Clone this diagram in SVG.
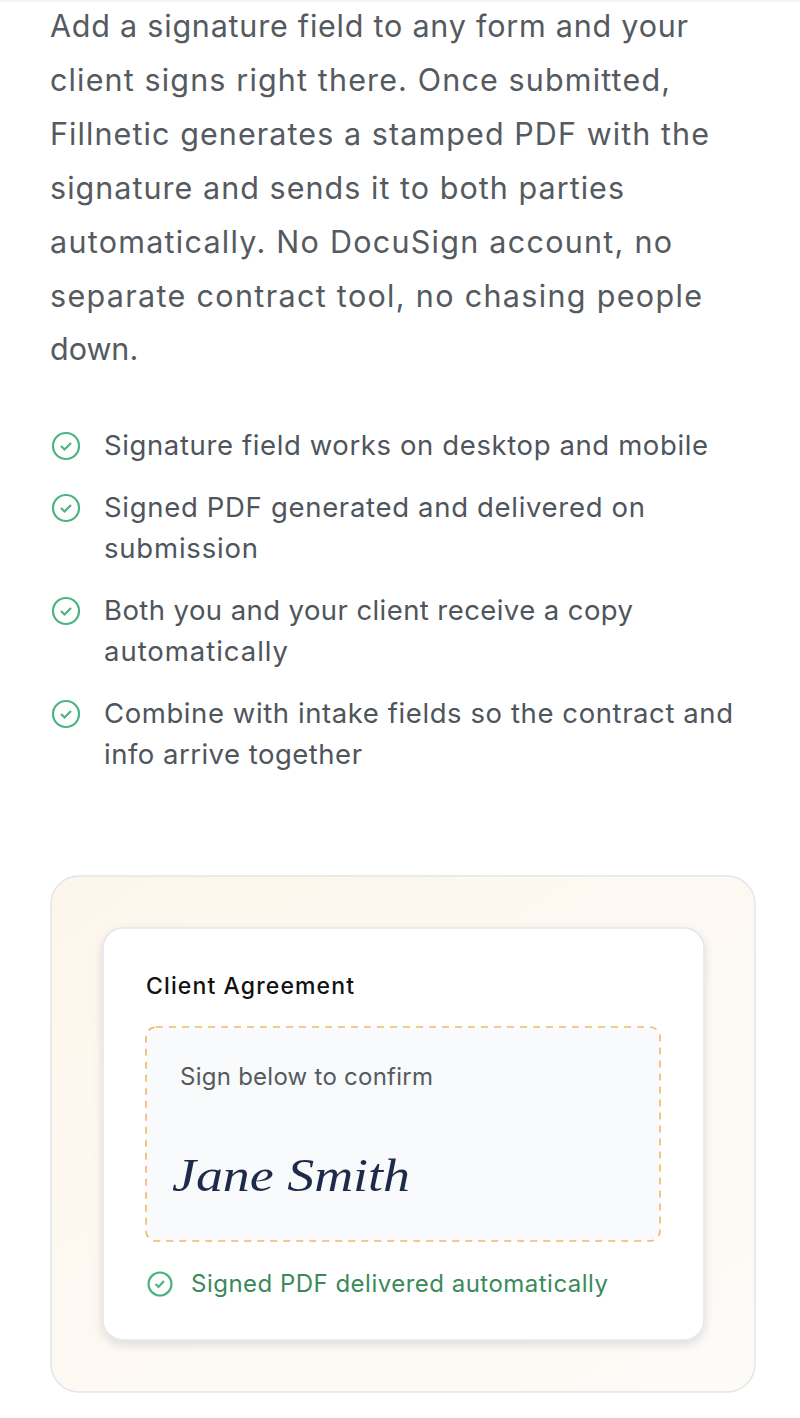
<svg xmlns="http://www.w3.org/2000/svg" width="800" height="1418" viewBox="0 0 800 1418">
<defs>
<style>
.p{font-family:Inter,"Noto Sans",sans-serif;font-size:30.5px;fill:#555a60}
.l{font-family:Inter,"Noto Sans",sans-serif;font-size:27.5px;fill:#4f555c}
.ic{fill:none;stroke:#4db380;stroke-width:2.2}
</style>
<linearGradient id="bg" x1="0" y1="0" x2="1" y2="1"><stop offset="0" stop-color="#fdf6ec"/><stop offset="1" stop-color="#fdfbf8"/></linearGradient>
<filter id="sh" x="-10%" y="-10%" width="120%" height="125%"><feDropShadow dx="0" dy="4" stdDeviation="5" flood-color="#000" flood-opacity="0.12"/></filter>
<g id="chk"><circle r="13" class="ic"/><path d="M-5,0 L-1.5,3.5 L5,-3" class="ic"/></g>
</defs>
<rect width="800" height="1418" fill="#fff"/>
<line x1="0" y1="1" x2="800" y2="1" stroke="#e5e7eb"/>
<g id="intro">
<text class="p" x="50" y="37" textLength="638" lengthAdjust="spacing">Add a signature field to any form and your</text>
<text class="p" x="50" y="91" textLength="620" lengthAdjust="spacing">client signs right there. Once submitted,</text>
<text class="p" x="50" y="145" textLength="659" lengthAdjust="spacing">Fillnetic generates a stamped PDF with the</text>
<text class="p" x="50" y="199" textLength="574" lengthAdjust="spacing">signature and sends it to both parties</text>
<text class="p" x="50" y="253" textLength="622" lengthAdjust="spacing">automatically. No DocuSign account, no</text>
<text class="p" x="50" y="307" textLength="652" lengthAdjust="spacing">separate contract tool, no chasing people</text>
<text class="p" x="50" y="360">down.</text>
</g>
<g id="list">
<use href="#chk" x="66" y="446"/>
<text class="l" x="104" y="455" textLength="604" lengthAdjust="spacing">Signature field works on desktop and mobile</text>
<use href="#chk" x="66" y="508"/>
<text class="l" x="104" y="517" textLength="541" lengthAdjust="spacing">Signed PDF generated and delivered on</text>
<text class="l" x="104" y="558" textLength="154" lengthAdjust="spacing">submission</text>
<use href="#chk" x="66" y="611"/>
<text class="l" x="104" y="620" textLength="529" lengthAdjust="spacing">Both you and your client receive a copy</text>
<text class="l" x="104" y="661" textLength="184" lengthAdjust="spacing">automatically</text>
<use href="#chk" x="66" y="714"/>
<text class="l" x="104" y="723" textLength="629" lengthAdjust="spacing">Combine with intake fields so the contract and</text>
<text class="l" x="104" y="764" textLength="258" lengthAdjust="spacing">info arrive together</text>
</g>
<g id="outer-card"><rect x="51" y="876" width="704" height="516" rx="28" fill="url(#bg)" stroke="#e3e5e8" stroke-width="1.5"/></g>
<g id="agreement-card">
<rect x="103" y="928" width="601" height="412" rx="20" fill="#fff" stroke="#e3e6ea" stroke-width="1.5" filter="url(#sh)"/>
<text x="146" y="994" font-family="Inter,'Noto Sans',sans-serif" font-size="23" font-weight="500" fill="#111" textLength="208" lengthAdjust="spacing">Client Agreement</text>
</g>
<g id="signature-box">
<rect x="146" y="1027" width="514" height="214" rx="10" fill="#f8fafc" stroke="#f0b868" stroke-width="1.6" stroke-dasharray="7,6"/>
<text x="180" y="1085" font-family="Inter,'Noto Sans',sans-serif" font-size="24" fill="#555a60" textLength="253" lengthAdjust="spacing">Sign below to confirm</text>
<text x="172" y="1191" font-family="'Liberation Serif',serif" font-style="italic" font-size="46" fill="#1e2a4a" textLength="238" lengthAdjust="spacingAndGlyphs">Jane Smith</text>
</g>
<g id="status">
<circle cx="160" cy="1284" r="11.5" class="ic" stroke="#3a8a5c"/>
<path d="M155.5,1284 L158.5,1287 L164,1281" class="ic" stroke="#3a8a5c"/>
<text x="191" y="1292" font-family="Inter,'Noto Sans',sans-serif" font-size="24" fill="#3a8a5c" textLength="417" lengthAdjust="spacing">Signed PDF delivered automatically</text>
</g>
<g id="connectors"/>
</svg>
